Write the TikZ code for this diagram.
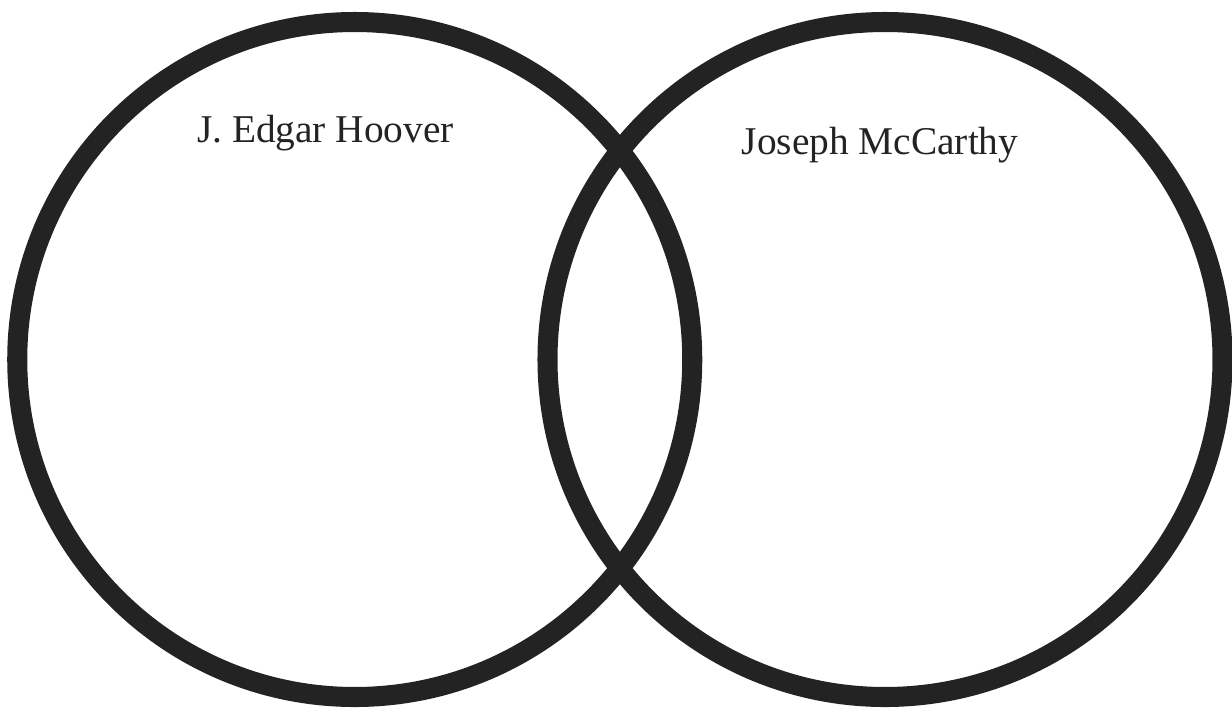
\documentclass[tikz,border=0pt]{standalone}
\usepackage{fontspec}
\setmainfont{Liberation Serif}
\usepackage{tikz}
\definecolor{ink}{HTML}{232323}
\tikzset{ring/.style={circle,draw=ink,line width=5.7pt,inner sep=0pt,minimum size=6.75cm},tagtext/.style={anchor=base,text=ink,font=\fontsize{11.2}{13}\selectfont}}

\begin{document}
\begin{tikzpicture}[x=1cm,y=1cm]
\useasboundingbox (0,0) rectangle (12.32,7.09);
\node[ring] (hoover) at (3.5475,3.495) {};
\node[ring] (mccarthy) at (8.85,3.495) {};
\node[tagtext] (hooverlabel) at (3.255,5.67) {J. Edgar Hoover};
\node[tagtext] (mccarthylabel) at (8.80,5.55) {Joseph McCarthy};
\end{tikzpicture}
\end{document}
